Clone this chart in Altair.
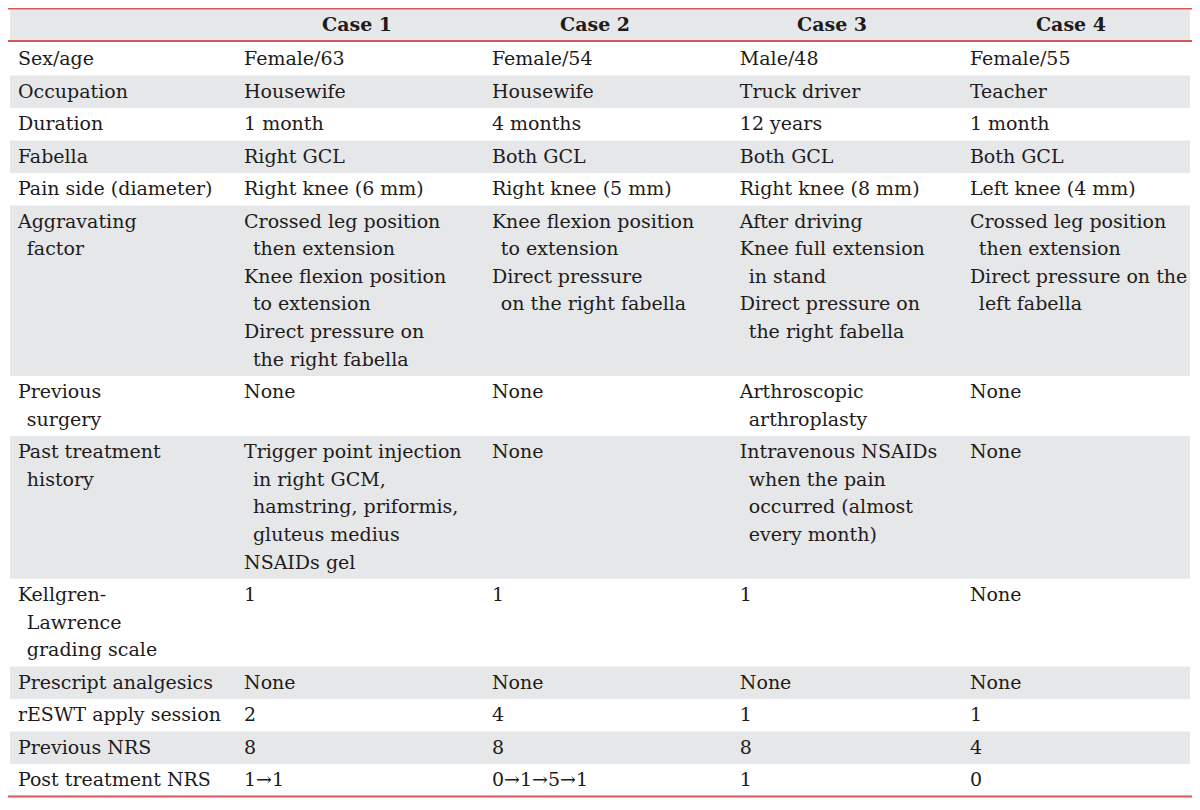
import altair as alt
import pandas as pd

headers = ["Case 1", "Case 2", "Case 3", "Case 4"]

row_labels = [
    "Sex/age", "Occupation", "Duration", "Fabella", "Pain side (diameter)",
    "Aggravating\n factor", "Previous\n surgery", "Past treatment\n history",
    "Kellgren-\n Lawrence\n grading scale", "Prescript analgesics",
    "rESWT apply session", "Previous NRS", "Post treatment NRS",
]

case1 = [
    "Female/63", "Housewife", "1 month", "Right GCL", "Right knee (6 mm)",
    "Crossed leg position\n then extension\nKnee flexion position\n to extension\nDirect pressure on\n the right fabella",
    "None",
    "Trigger point injection\n in right GCM,\n hamstring, priformis,\n gluteus medius\nNSAIDs gel",
    "1", "None", "2", "8", "1\u21921",
]

case2 = [
    "Female/54", "Housewife", "4 months", "Both GCL", "Right knee (5 mm)",
    "Knee flexion position\n to extension\nDirect pressure\n on the right fabella",
    "None", "None", "1", "None", "4", "8", "0\u21921\u21925\u21921",
]

case3 = [
    "Male/48", "Truck driver", "12 years", "Both GCL", "Right knee (8 mm)",
    "After driving\nKnee full extension\n in stand\nDirect pressure on\n the right fabella",
    "Arthroscopic\n arthroplasty",
    "Intravenous NSAIDs\n when the pain\n occurred (almost\n every month)",
    "1", "None", "1", "8", "1",
]

case4 = [
    "Female/55", "Teacher", "1 month", "Both GCL", "Left knee (4 mm)",
    "Crossed leg position\n then extension\nDirect pressure on the\n left fabella",
    "None", "None", "None", "None", "1", "4", "0",
]

# ---- layout (reference pixel space) ----
W, H = 1184, 790
X0, X1 = 3, 1197
Y0, Y1 = 3, 805
col_x = [13, 241, 491, 741, 973]
head_x = [355, 595, 834, 1075]
indent = 9
line_h = 28
single_h = 33
first_text_y = 55
header_y = 20
FONT = "DejaVu Serif"
FS = 19
INK = "#1e1b1c"

columns = [row_labels, case1, case2, case3, case4]

text_rows, band_rows = [], []
y = first_text_y
for r in range(len(row_labels)):
    cells = [col[r].split("\n") for col in columns]
    n = max(len(c) for c in cells)
    for ci, lines in enumerate(cells):
        for li, ln in enumerate(lines):
            ind = ln.startswith(" ")
            text_rows.append({
                "t": ln.strip(),
                "x": col_x[ci] + (indent if ind else 0),
                "y": y + li * line_h,
            })
    height = single_h + line_h * (n - 1)
    top = y - single_h / 2
    if r % 2 == 1:
        band_rows.append({"x": 5, "x2": 1195, "y": top, "y2": top + height})
    y += height
bottom = y - single_h / 2

# header band
band_rows.append({"x": 5, "x2": 1195, "y": 4, "y2": 36})

rules = pd.DataFrame({
    "x": [X0, X0, X0], "x2": [X1, X1, X1],
    "y": [3.5, 36.5, bottom],
})
heads = pd.DataFrame({"t": headers, "x": head_x, "y": [header_y] * 4})

xs = alt.Scale(domain=[X0, X1], nice=False, zero=False)
ys = alt.Scale(domain=[Y0, Y1], nice=False, zero=False, reverse=True)

bands = alt.Chart(pd.DataFrame(band_rows)).mark_rect(color="#e6e7e8").encode(
    x=alt.X("x:Q", scale=xs, axis=None), x2="x2:Q",
    y=alt.Y("y:Q", scale=ys, axis=None), y2="y2:Q",
)

lines = alt.Chart(rules).mark_rule(color="#d6575c", strokeWidth=2).encode(
    x=alt.X("x:Q", scale=xs, axis=None), x2="x2:Q",
    y=alt.Y("y:Q", scale=ys, axis=None),
)

body = alt.Chart(pd.DataFrame(text_rows)).mark_text(
    align="left", baseline="middle", font=FONT, fontSize=FS, color=INK
).encode(
    x=alt.X("x:Q", scale=xs, axis=None),
    y=alt.Y("y:Q", scale=ys, axis=None),
    text="t:N",
)

head = alt.Chart(heads).mark_text(
    align="center", baseline="middle", font=FONT, fontSize=FS,
    fontWeight="bold", color=INK
).encode(
    x=alt.X("x:Q", scale=xs, axis=None),
    y=alt.Y("y:Q", scale=ys, axis=None),
    text="t:N",
)

chart = alt.layer(bands, lines, body, head).properties(
    width=W, height=H, padding=0,
    autosize=alt.AutoSizeParams(type="none"),
).configure_view(strokeWidth=0)

chart.save("out.html", embed_options={"renderer": "svg", "actions": False})
